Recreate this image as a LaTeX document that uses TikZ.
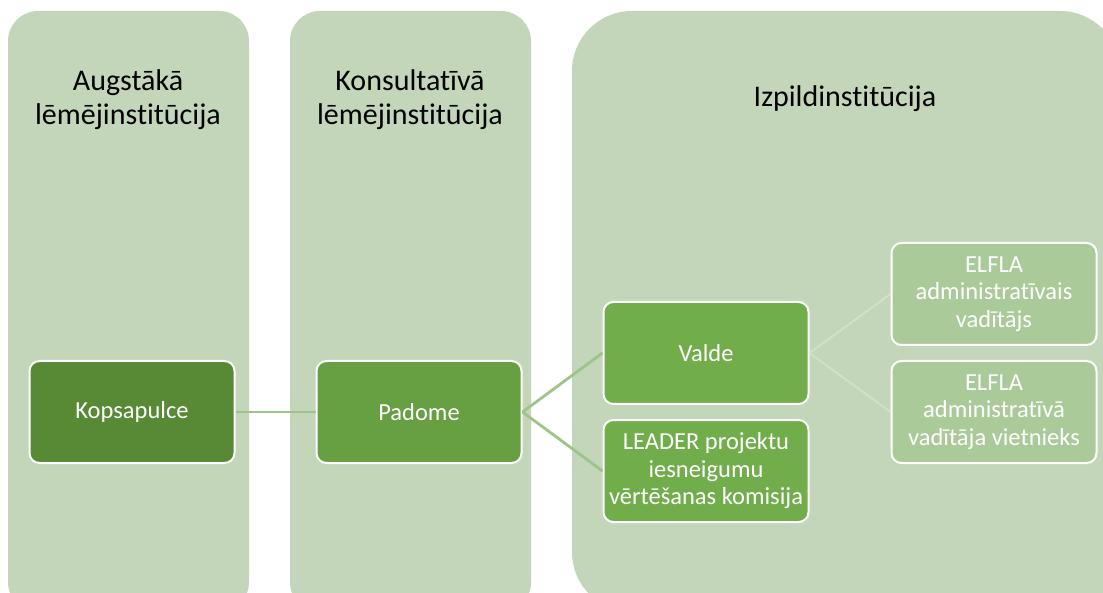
\documentclass[tikz,border=0pt]{standalone}
\usepackage{fontspec}
\setmainfont{Carlito}[Ligatures=NoCommon]
\definecolor{colbg}{HTML}{C3D6BA}
\definecolor{kop}{HTML}{588A36}
\definecolor{pad}{HTML}{66A042}
\definecolor{val}{HTML}{71AD4B}
\definecolor{elf}{HTML}{ABCA9A}
\definecolor{lineA}{HTML}{9EC589}
\definecolor{lineB}{HTML}{CFE2C6}
\tikzset{
  colshape/.style={fill=colbg},
  coltitle/.style={align=center, font=\fontsize{30}{34}\selectfont, text=black, inner sep=0pt},
  boxnode/.style={draw=white, line width=2pt, rounded corners=10pt, minimum width=205pt, minimum height=102pt,
    align=center, text=white, inner sep=1pt, font=\fontsize{24.5}{27.5}\selectfont},
  linkA/.style={draw=lineA, line width=2.8pt},
  linkB/.style={draw=lineB, line width=2pt}
}
\begin{document}
\begin{tikzpicture}[x=1pt,y=-1pt]
\useasboundingbox (0,0) rectangle (1103,593);
\fill[white] (0,0) rectangle (1103,593);
\begin{scope}
\clip (0,0) rectangle (1103,593);
\fill[colshape, rounded corners=30pt] (8,11) rectangle (249,612);
\fill[colshape, rounded corners=30pt] (290,11) rectangle (531,612);
\fill[colshape, rounded corners=60pt] (572,11) rectangle (1120,612);
\end{scope}
\node[coltitle] (t1) at (128,100) {Augstākā\\lēmējinstitūcija};
\node[coltitle] (t2) at (410,100) {Konsultatīvā\\lēmējinstitūcija};
\node[coltitle] (t3) at (845,99) {Izpildinstitūcija};

\node[boxnode, fill=kop] (kop) at (132,412) {Kopsapulce};
\node[boxnode, fill=pad] (pad) at (419,412) {Padome};
\node[boxnode, fill=val] (val) at (706,353) {Valde};
\node[boxnode, fill=val] (lea) at (706,471) {LEADER projektu\\iesneigumu\\vērtēšanas komisija};
\node[boxnode, fill=elf] (e1) at (994,294) {ELFLA\\administratīvais\\vadītājs};
\node[boxnode, fill=elf] (e2) at (994,412) {ELFLA\\administratīvā\\vadītāja vietnieks};

\draw[linkA] (kop.east) -- (pad.west);
\draw[linkA] (pad.east) -- (val.west);
\draw[linkA] (pad.east) -- (lea.west);
\draw[linkB] (val.east) -- (e1.west);
\draw[linkB] (val.east) -- (e2.west);
\end{tikzpicture}
\end{document}
